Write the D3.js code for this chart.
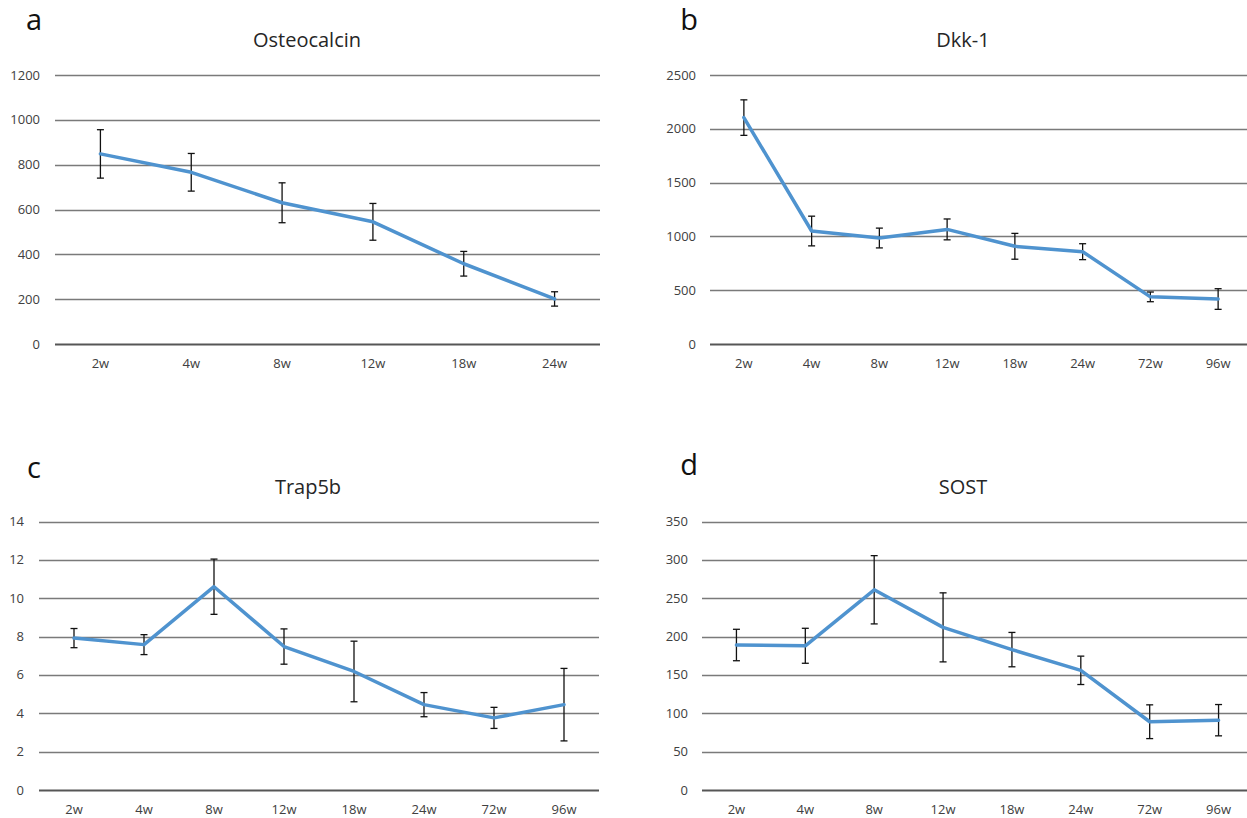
<!DOCTYPE html>
<html lang="en">
<head>
<meta charset="UTF-8">
<title>Bone markers</title>
<style>
  body { margin: 0; background: #ffffff; overflow: hidden; }
  svg { display: block; font-family: "Open Sans", "Liberation Sans", Arial, sans-serif; }
  .grid line { stroke: #7a7a7a; stroke-width: 1.3px; }
  .grid line.base { stroke: #565656; stroke-width: 2px; }
  .tick-label { fill: #404040; font-size: 13px; }
  .title { fill: #262626; font-size: 20px; }
  .letter { fill: #111; font-size: 29px; }
  .series { fill: none; stroke: #4f93cf; stroke-width: 3.5px; stroke-linejoin: round; stroke-linecap: round; }
  .err { stroke: #111; stroke-width: 1.3px; }
</style>
</head>
<body>
<script src="https://cdnjs.cloudflare.com/ajax/libs/d3/7.8.5/d3.min.js"></script>
<script>
// categories
const weeksShort = ["2w", "4w", "8w", "12w", "18w", "24w"];
const weeksLong = ["2w", "4w", "8w", "12w", "18w", "24w", "72w", "96w"];

// Osteocalcin
const osteoValues = [848, 766, 630, 545, 358, 201];
const osteoErrors = [108, 84, 89, 82, 55, 32];
const osteoTicks = [0, 200, 400, 600, 800, 1000, 1200];

// Dkk-1
const dkkValues = [2104, 1050, 985, 1065, 908, 858, 438, 418];
const dkkErrors = [165, 138, 92, 97, 120, 74, 45, 96];
const dkkTicks = [0, 500, 1000, 1500, 2000, 2500];

// Trap5b
const trapValues = [7.92, 7.58, 10.6, 7.48, 6.18, 4.45, 3.76, 4.45];
const trapErrors = [0.5, 0.52, 1.44, 0.92, 1.58, 0.63, 0.55, 1.89];
const trapTicks = [0, 2, 4, 6, 8, 10, 12, 14];

// SOST
const sostValues = [189, 188, 261, 212, 183, 156, 89, 91];
const sostErrors = [20.5, 22.8, 44.5, 45, 22.4, 18.5, 22, 20.4];
const sostTicks = [0, 50, 100, 150, 200, 250, 300, 350];

const svg = d3.select("body").append("svg")
    .attr("width", 1247)
    .attr("height", 818);

function drawPanel(p) {
    const g = svg.append("g");
    const x = d3.scaleBand().domain(p.cats).range([p.left, p.right]);
    const y = d3.scaleLinear().domain([0, d3.max(p.ticks)]).range([p.bottom, p.top]);

    // horizontal gridlines
    g.append("g").attr("class", "grid")
        .selectAll("line").data(p.ticks).enter().append("line")
        .attr("class", d => d === 0 ? "base" : null)
        .attr("x1", p.left).attr("x2", p.right)
        .attr("y1", d => Math.round(y(d)) + 0.5)
        .attr("y2", d => Math.round(y(d)) + 0.5);

    // y tick labels
    g.selectAll(".ylab").data(p.ticks).enter().append("text")
        .attr("class", "tick-label")
        .attr("x", p.labelX)
        .attr("y", d => y(d))
        .attr("dy", "0.35em")
        .attr("text-anchor", "end")
        .text(d => d);

    // x labels
    g.selectAll(".xlab").data(p.cats).enter().append("text")
        .attr("class", "tick-label")
        .attr("x", d => x(d) + x.bandwidth() / 2)
        .attr("y", p.bottom + 19)
        .attr("dy", "0.35em")
        .attr("text-anchor", "middle")
        .text(d => d);

    const pts = p.cats.map((c, i) => ({ c: c, v: p.values[i], e: p.errors[i] }));
    const cx = d => x(d.c) + x.bandwidth() / 2;

    // error bars
    const eb = g.selectAll(".eb").data(pts).enter().append("g").attr("class", "err");
    eb.append("line")
        .attr("x1", cx).attr("x2", cx)
        .attr("y1", d => y(d.v + d.e)).attr("y2", d => y(d.v - d.e));
    eb.append("line")
        .attr("x1", d => cx(d) - 3.5).attr("x2", d => cx(d) + 3.5)
        .attr("y1", d => y(d.v + d.e)).attr("y2", d => y(d.v + d.e));
    eb.append("line")
        .attr("x1", d => cx(d) - 3.5).attr("x2", d => cx(d) + 3.5)
        .attr("y1", d => y(d.v - d.e)).attr("y2", d => y(d.v - d.e));

    // the series line
    g.append("path").datum(pts)
        .attr("class", "series")
        .attr("d", d3.line().x(cx).y(d => y(d.v)));

    // title and panel letter
    g.append("text").attr("class", "title")
        .attr("x", p.titleX).attr("y", p.titleY)
        .attr("dy", "0.35em")
        .attr("text-anchor", "middle")
        .text(p.title);
    g.append("text").attr("class", "letter")
        .attr("x", p.letterX).attr("y", p.letterY)
        .attr("dy", "0.35em")
        .attr("text-anchor", "middle")
        .text(p.letter);
}

drawPanel({ cats: weeksShort, values: osteoValues, errors: osteoErrors, ticks: osteoTicks,
    left: 55, right: 600, top: 75, bottom: 344, labelX: 40,
    title: "Osteocalcin", titleX: 307, titleY: 40, letter: "a", letterX: 34, letterY: 20 });

drawPanel({ cats: weeksLong, values: dkkValues, errors: dkkErrors, ticks: dkkTicks,
    left: 710, right: 1252, top: 75, bottom: 344, labelX: 696,
    title: "Dkk-1", titleX: 963, titleY: 40, letter: "b", letterX: 689, letterY: 20 });

drawPanel({ cats: weeksLong, values: trapValues, errors: trapErrors, ticks: trapTicks,
    left: 39, right: 599, top: 521.5, bottom: 790, labelX: 24,
    title: "Trap5b", titleX: 308, titleY: 487, letter: "c", letterX: 34, letterY: 468 });

drawPanel({ cats: weeksLong, values: sostValues, errors: sostErrors, ticks: sostTicks,
    left: 702, right: 1253, top: 521.5, bottom: 790, labelX: 688,
    title: "SOST", titleX: 963, titleY: 487, letter: "d", letterX: 689, letterY: 465 });
</script>
</body>
</html>
